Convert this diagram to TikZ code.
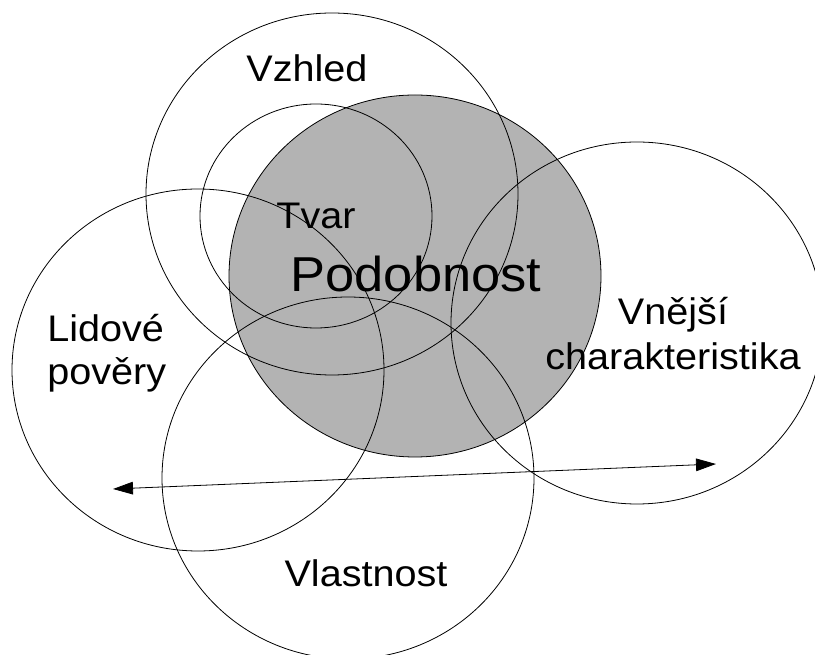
\documentclass[tikz,border=0pt]{standalone}
\usepackage{fontspec}
\setmainfont{Liberation Sans}[FakeStretch=1.07]
\usetikzlibrary{shapes.geometric,arrows.meta}
\definecolor{simgray}{RGB}{179,179,179}
\tikzset{
  bigset/.style={ellipse, draw=black, line width=0.6pt, inner sep=0pt,
    minimum width=279pt, minimum height=271.5pt},
  smallset/.style={ellipse, draw=black, line width=0.6pt, inner sep=0pt,
    minimum width=174pt, minimum height=168pt},
  core/.style={bigset, fill=simgray},
  lbl/.style={inner sep=0pt, font=\fontsize{27.75}{33}\selectfont},
  biglbl/.style={inner sep=0pt, font=\fontsize{36.75}{44}\selectfont},
  link/.style={line width=0.6pt, {Triangle[length=15pt,width=9.5pt]}-{Triangle[length=15pt,width=9.5pt]}}
}
\begin{document}
\begin{tikzpicture}[x=0.75pt,y=-0.75pt]
\useasboundingbox (0,0) rectangle (815,655);
\clip (0,0) rectangle (815,655);
% filled core first, outlines above
\node[core] (podobnost) at (415,276) {};
\node[bigset] (vzhled) at (332,194) {};
\node[smallset] (tvar) at (316,216) {};
\node[bigset] (vnejsi) at (637,323) {};
\node[bigset] (lidove) at (198,370) {};
\node[bigset] (vlastnost) at (348,478) {};
% labels
\node[lbl, anchor=base] (tVzhled) at (307,82) {Vzhled};
\node[lbl, anchor=base] (tTvar) at (316,229) {Tvar};
\node[biglbl, anchor=base] (tPodobnost) at (416,292) {Podobnost};
\node[lbl, anchor=base west, align=left] (tLidove) at (47,385) {Lidové\\[-0.5pt]pověry};
\node[lbl, anchor=base, align=center] (tVnejsi) at (673,370) {Vnější\\[1pt]charakteristika};
\node[lbl, anchor=base] (tVlastnost) at (366,587) {Vlastnost};
% arrow
\coordinate (aL) at (113,489);
\coordinate (aR) at (716,464);
\draw[link] (aL) -- (aR);
\end{tikzpicture}
\end{document}
